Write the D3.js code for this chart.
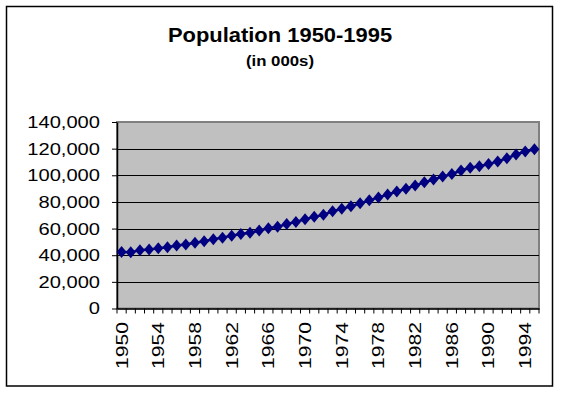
<!DOCTYPE html>
<html>
<head>
<meta charset="utf-8">
<script src="https://cdn.jsdelivr.net/npm/d3@7"></script>
<style>
  body { margin: 0; background: #fff; }
  text { font-family: Arial, "Liberation Sans", sans-serif; }
</style>
</head>
<body>
<div id="chart"></div>
<script>
// population in thousands
const years = d3.range(1950, 1996);
const population = [
  42500, 42200, 43800, 44200, 45300, 46000, 47300, 48000, 49300, 50500,
  52000, 53200, 54700, 56000, 56800, 58500, 60300, 61300, 63400, 65000,
  67000, 68800, 70300, 73000, 74800, 76700, 79000, 81200, 83400, 85500,
  87800, 89900, 92300, 94700, 96800, 99000, 101000, 103600, 105700, 106800,
  108400, 110400, 112800, 115600, 117800, 119500
];
const yTicks = [0, 20000, 40000, 60000, 80000, 100000, 120000, 140000];
const labelYears = years.filter(y => (y - 1950) % 4 === 0);

const W = 564, H = 397;
const plot = { left: 117, right: 539, top: 122, bottom: 308.5 };

const svg = d3.select("#chart").append("svg")
  .attr("width", W)
  .attr("height", H);

// outer chart border
svg.append("rect")
  .attr("x", 6.5).attr("y", 6.5)
  .attr("width", 546).attr("height", 379.5)
  .attr("fill", "#fff")
  .attr("stroke", "#000")
  .attr("stroke-width", 1.5);

// titles
svg.append("text")
  .attr("transform", "translate(280,42) scale(1.07,1)")
  .attr("text-anchor", "middle")
  .attr("font-size", 20.5)
  .attr("font-weight", "bold")
  .text("Population 1950-1995");

svg.append("text")
  .attr("transform", "translate(280,66) scale(1.12,1)")
  .attr("text-anchor", "middle")
  .attr("font-size", 15)
  .attr("font-weight", "bold")
  .text("(in 000s)");

const x = d3.scaleBand().domain(years).range([plot.left, plot.right]);
const y = d3.scaleLinear().domain([0, 140000]).range([plot.bottom, plot.top]);

// plot area
svg.append("rect")
  .attr("x", plot.left).attr("y", plot.top)
  .attr("width", plot.right - plot.left)
  .attr("height", plot.bottom - plot.top)
  .attr("fill", "#c0c0c0")
  .attr("stroke", "#808080")
  .attr("stroke-width", 2);

// gridlines
svg.append("g")
  .selectAll("line")
  .data(yTicks.slice(1, -1))
  .join("line")
    .attr("x1", plot.left).attr("x2", plot.right)
    .attr("y1", d => Math.round(y(d)) + 0.5)
    .attr("y2", d => Math.round(y(d)) + 0.5)
    .attr("stroke", "#000");

// y axis
const yAxis = svg.append("g")
  .attr("transform", `translate(${plot.left},0)`)
  .call(d3.axisLeft(y).tickValues(yTicks).tickSize(5).tickSizeOuter(0)
    .tickFormat(d3.format(",")));
yAxis.select(".domain").attr("stroke", "#000").attr("stroke-width", 1.5);
yAxis.selectAll(".tick line").attr("stroke", "#000");
yAxis.selectAll(".tick text").remove();

svg.append("g")
  .selectAll("text")
  .data(yTicks)
  .join("text")
    .attr("transform", d => `translate(100,${y(d)}) scale(1.22,1)`)
    .attr("dy", "0.36em")
    .attr("text-anchor", "end")
    .attr("font-size", 16.5)
    .attr("fill", "#000")
    .text(d3.format(","));

// x axis with ticks between categories
const xAxis = svg.append("g")
  .attr("transform", `translate(0,${plot.bottom})`)
  .call(d3.axisBottom(x).tickSize(5).tickSizeOuter(0).tickFormat(""));
xAxis.select(".domain").attr("stroke", "#000").attr("stroke-width", 1.5);
xAxis.selectAll(".tick line")
  .attr("stroke", "#000")
  .attr("transform", `translate(${-x.bandwidth() / 2},0)`);
xAxis.append("line")
  .attr("x1", plot.right).attr("x2", plot.right)
  .attr("y1", 0).attr("y2", 5)
  .attr("stroke", "#000");

svg.append("g")
  .selectAll("text")
  .data(labelYears)
  .join("text")
    .attr("transform", d => `translate(${x(d) + x.bandwidth() / 2},322) rotate(-90) scale(1.28,1)`)
    .attr("dy", "0.36em")
    .attr("text-anchor", "end")
    .attr("font-size", 16.5)
    .attr("fill", "#000")
    .text(d => d);

// series line + diamond markers
const cx = d => x(d) + x.bandwidth() / 2;
const pts = years.map((yr, i) => [cx(yr), y(population[i])]);

svg.append("path")
  .datum(pts)
  .attr("fill", "none")
  .attr("stroke", "#000080")
  .attr("stroke-width", 2.5)
  .attr("d", d3.line());

svg.append("g")
  .selectAll("path")
  .data(pts)
  .join("path")
    .attr("transform", d => `translate(${d[0]},${d[1]})`)
    .attr("d", "M0,-6L5,0L0,6L-5,0Z")
    .attr("fill", "#000080");
</script>
</body>
</html>
